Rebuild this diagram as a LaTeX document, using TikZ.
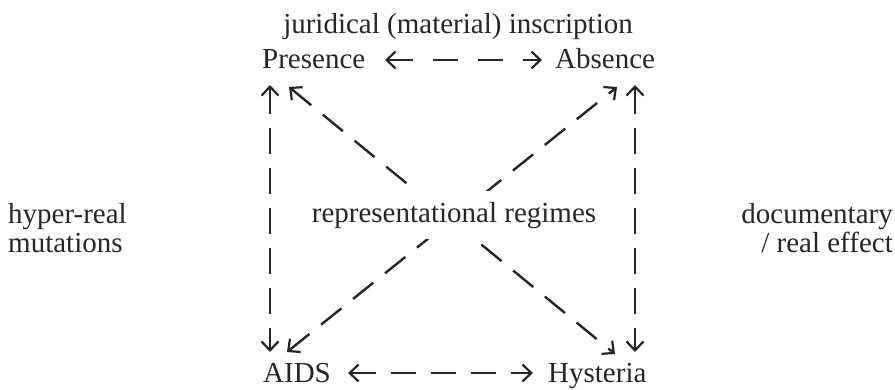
\documentclass[tikz,border=0pt]{standalone}
\usepackage{fontspec}
\setmainfont{Liberation Serif}
\usetikzlibrary{arrows.meta,calc}
\definecolor{ink}{HTML}{262626}
\begin{document}
\begin{tikzpicture}[x=1pt,y=-1pt,
  lbl/.style={inner sep=0pt,text=ink,font=\fontsize{29}{34}\selectfont},
  conn/.style={draw=ink,line width=2.4pt,dash pattern=on 26pt off 14pt,
    {Straight Barb[length=9pt,width=17pt,line width=2.2pt]}-{Straight Barb[length=9pt,width=17pt,line width=2.2pt]}},
  diag/.style={conn,dash pattern=on 26pt off 15pt}]
\useasboundingbox (0,0) rectangle (895,389);
\node[lbl,anchor=base] (T) at (458,33) {juridical (material) inscription};
\node[lbl,anchor=base west] (P) at (262,68) {Presence};
\node[lbl,anchor=base west] (A) at (555,68) {Absence};
\node[lbl,anchor=base west] (D) at (263,382) {AIDS};
\node[lbl,anchor=base west] (H) at (548,382) {Hysteria};
\node[lbl,anchor=base west] (L1) at (8,223) {hyper-real};
\node[lbl,anchor=base west] (L2) at (8,252) {mutations};
\node[lbl,anchor=base east] (R1) at (893,223) {documentary};
\node[lbl,anchor=base east] (R2) at (893,252) {/ real effect};
% horizontal
\draw[conn,dash pattern=on 25pt off 20pt] ($(P.base west)+(123,-8)$) -- ($(A.base west)+(-13,-8)$);
\draw[conn,dash pattern=on 25pt off 15pt] ($(D.base west)+(85,-9)$) -- ($(H.base west)+(-15,-9)$);
% vertical
\draw[conn] ($(P.base west)+(8,17)$) -- ($(D.base west)+(7,-30)$);
\draw[conn] ($(A.base west)+(80,17)$) -- ($(H.base west)+(87,-30)$);
% diagonals
\draw[diag] ($(P.base west)+(27,19)$) -- ($(H.base west)+(67,-28)$);
\draw[diag] ($(D.base west)+(24,-30)$) -- ($(A.base west)+(62,19)$);
\node[lbl,anchor=base,fill=white,inner xsep=4pt,inner ysep=11pt] (C) at (454,222) {representational regimes};
\end{tikzpicture}
\end{document}
